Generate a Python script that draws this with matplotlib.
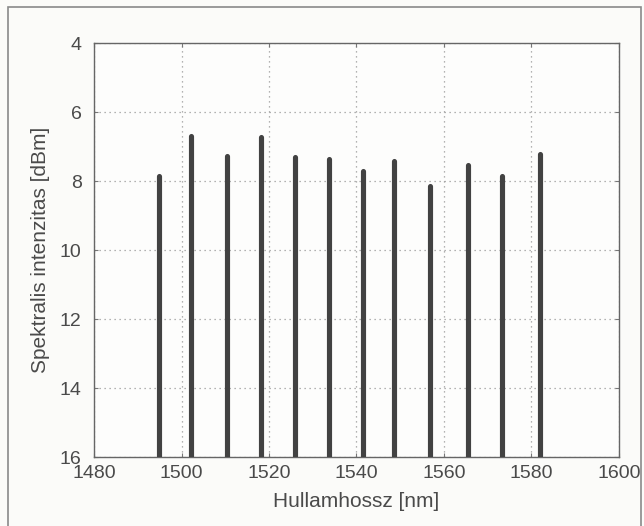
import numpy as np
import matplotlib.pyplot as plt
from matplotlib.patches import Rectangle

# wavelengths [nm] and spectral intensity [dBm] of the channels
wavelength = [1494.8, 1502.1, 1510.5, 1518.1, 1525.9, 1533.7,
              1541.4, 1548.6, 1556.9, 1565.6, 1573.3, 1582.0]
intensity = [7.86, 6.69, 7.28, 6.72, 7.29, 7.35,
             7.72, 7.42, 8.13, 7.54, 7.85, 7.21]
xticks = [1480, 1500, 1520, 1540, 1560, 1580, 1600]
yticks = [4, 6, 8, 10, 12, 14, 16]

plt.rcParams['font.family'] = ['Liberation Sans', 'DejaVu Sans']
txt = '#4a4a4a'

fig = plt.figure(figsize=(6.44, 5.26), dpi=100, facecolor='#fbfbf9')
ax = fig.add_axes([0.146, 0.131, 0.815, 0.787])
ax.set_facecolor('#fdfdfc')

# outer frame of the scanned figure
fig.patches.append(Rectangle((0.013, -0.01), 0.982, 0.996, transform=fig.transFigure,
                             fill=False, edgecolor='#8a8a8a', linewidth=1.2))

ax.vlines(wavelength, 16, intensity, colors='#424242', linewidth=3.7,
          capstyle='round', zorder=3)

ax.set_xlim(1480, 1600)
ax.set_ylim(16, 4)
ax.set_xticks(xticks)
ax.set_yticks(yticks)
ax.grid(True, color='#9a9a9a', linestyle=(0, (1, 3)), linewidth=0.9)
ax.tick_params(direction='in', length=3, colors='#777777', labelcolor=txt,
               labelsize=14, top=True, right=True)
ax.tick_params(axis='x', pad=6)
ax.tick_params(axis='y', pad=9)
for s in ax.spines.values():
    s.set_color('#666666')
    s.set_linewidth(1.0)

ax.set_xlabel('Hullamhossz [nm]', fontsize=15, color=txt, labelpad=7)
ax.set_ylabel('Spektralis intenzitas [dBm]', fontsize=15, color=txt, labelpad=7)

fig.savefig('out.png', dpi=100, facecolor=fig.get_facecolor())
